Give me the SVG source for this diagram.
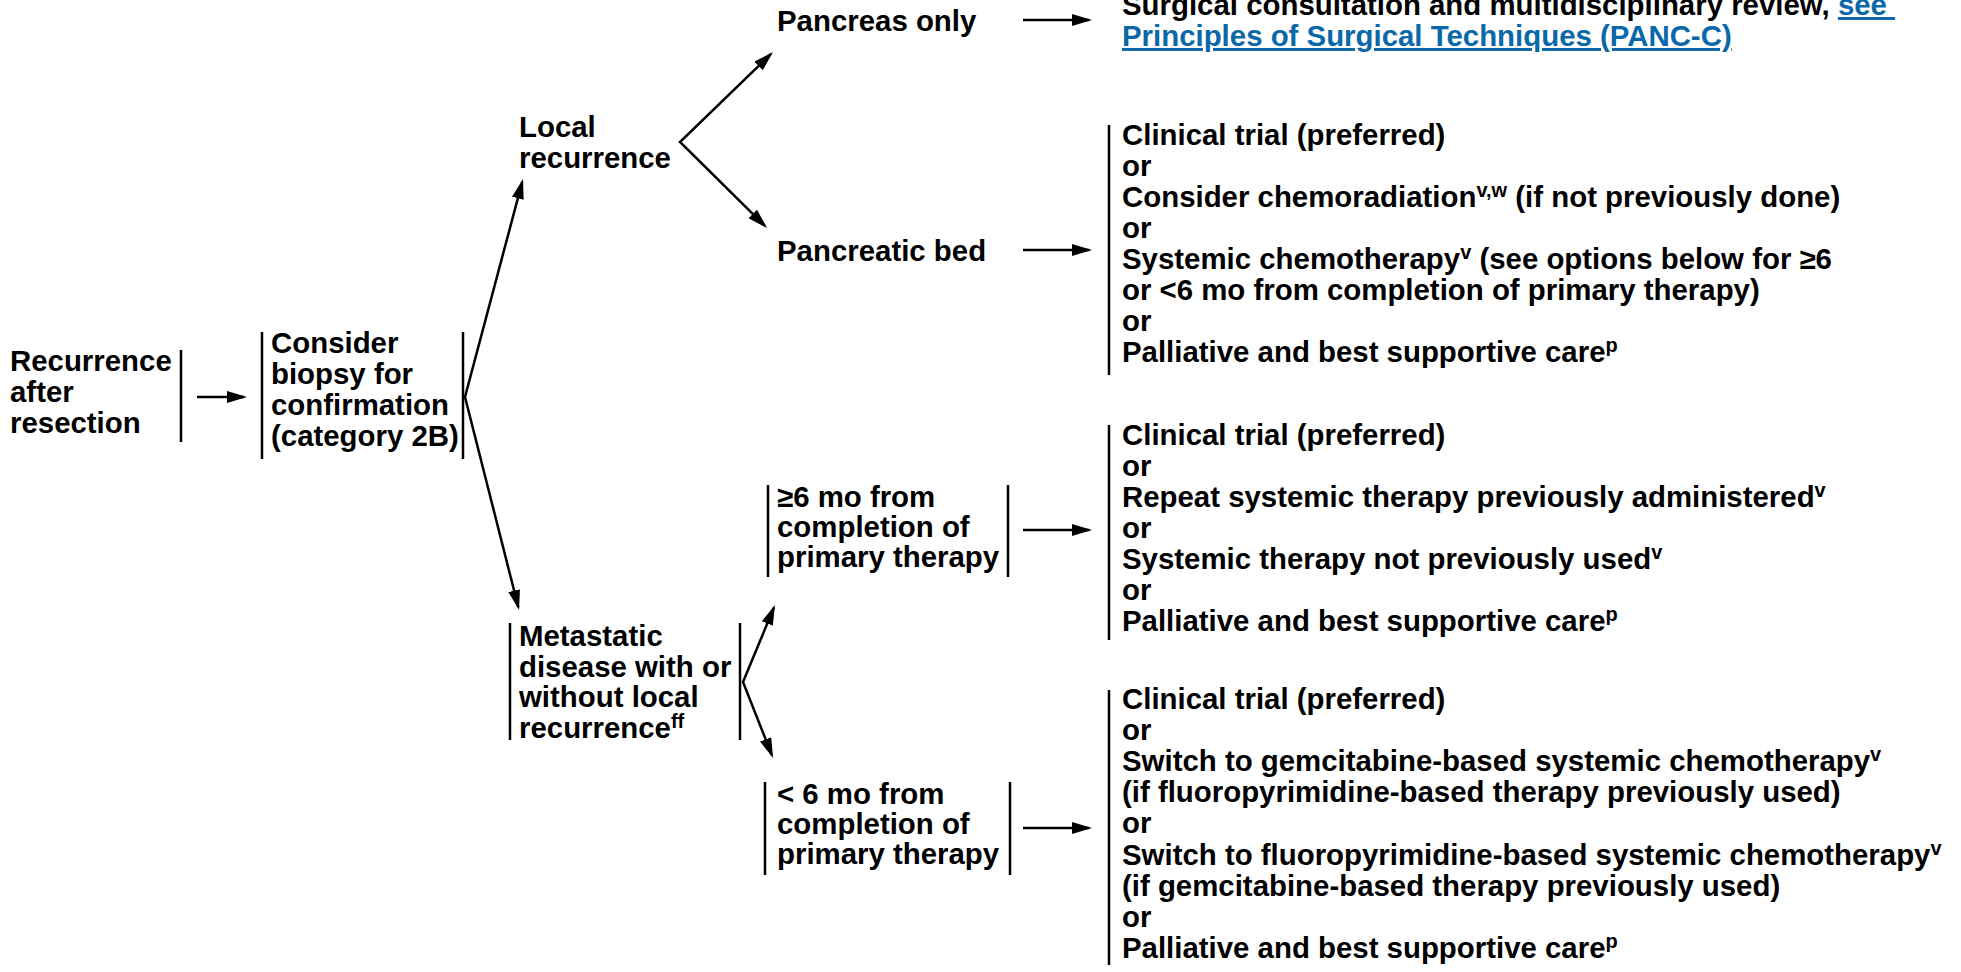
<svg xmlns="http://www.w3.org/2000/svg" width="1961" height="972" viewBox="0 0 1961 972">
<style>
text{font-family:"Liberation Sans",Arial,sans-serif;font-weight:bold;font-size:29.4px;fill:#000}
.sup{font-size:20px}
.link{fill:#0a68a8;text-decoration:underline}
.bar{stroke:#000;stroke-width:2.5;fill:none}
.conn{stroke:#000;stroke-width:2.5;fill:none;marker-end:url(#ah)}
.vee{stroke:#000;stroke-width:2.5;fill:none;marker-start:url(#ahs);marker-end:url(#ah)}
</style>
<defs>
<marker id="ah" markerUnits="userSpaceOnUse" markerWidth="20" markerHeight="12" refX="17" refY="6" orient="auto"><path d="M0,0 L20,6 L0,12 z" fill="#000"/></marker>
<marker id="ahs" markerUnits="userSpaceOnUse" markerWidth="20" markerHeight="12" refX="17" refY="6" orient="auto-start-reverse"><path d="M0,0 L20,6 L0,12 z" fill="#000"/></marker>
</defs>
<rect width="1961" height="972" fill="#fff"/>

<g id="connectors">
<line class="conn" x1="197" y1="397" x2="244" y2="397"/>
<path class="vee" d="M522.2,181.9 L465,397 L518.3,607.1"/>
<path class="vee" d="M770.8,54.1 L680,142 L764.9,225.9"/>
<path class="vee" d="M773.8,607.8 L743,682 L771.9,755.2"/>
<line class="conn" x1="1023" y1="20" x2="1089" y2="20"/>
<line class="conn" x1="1023" y1="250" x2="1089" y2="250"/>
<line class="conn" x1="1023" y1="530" x2="1089" y2="530"/>
<line class="conn" x1="1023" y1="828" x2="1089" y2="828"/>
</g>

<g id="node-recurrence">
<line class="bar" x1="181" y1="350" x2="181" y2="442"/>
<text><tspan x="10" y="371">Recurrence</tspan><tspan x="10" y="402">after</tspan><tspan x="10" y="433">resection</tspan></text>
</g>

<g id="node-biopsy">
<line class="bar" x1="262" y1="332" x2="262" y2="459"/>
<line class="bar" x1="463" y1="332" x2="463" y2="459"/>
<text><tspan x="271" y="353">Consider</tspan><tspan x="271" y="384">biopsy for</tspan><tspan x="271" y="415">confirmation</tspan><tspan x="271" y="446">(category 2B)</tspan></text>
</g>

<g id="node-local">
<text><tspan x="519" y="137">Local</tspan><tspan x="519" y="168">recurrence</tspan></text>
</g>

<g id="node-pancreas-only">
<text x="777" y="31">Pancreas only</text>
</g>

<g id="node-surgical">
<text><tspan x="1122" y="15">Surgical consultation and multidisciplinary review, </tspan><tspan class="link">see&#160;</tspan><tspan x="1122" y="46" class="link">Principles of Surgical Techniques (PANC-C)</tspan></text>
</g>

<g id="node-pancreatic-bed">
<text x="777" y="261">Pancreatic bed</text>
</g>

<g id="node-bed-options">
<line class="bar" x1="1109" y1="125" x2="1109" y2="375"/>
<text>
<tspan x="1122" y="145">Clinical trial (preferred)</tspan>
<tspan x="1122" y="176">or</tspan>
<tspan x="1122" y="207">Consider chemoradiation</tspan><tspan class="sup" dy="-10">v,w</tspan><tspan dy="10"> (if not previously done)</tspan>
<tspan x="1122" y="238">or</tspan>
<tspan x="1122" y="269">Systemic chemotherapy</tspan><tspan class="sup" dy="-10">v</tspan><tspan dy="10"> (see options below for ≥6</tspan>
<tspan x="1122" y="300">or &lt;6 mo from completion of primary therapy)</tspan>
<tspan x="1122" y="331">or</tspan>
<tspan x="1122" y="362">Palliative and best supportive care</tspan><tspan class="sup" dy="-10">p</tspan>
</text>
</g>

<g id="node-metastatic">
<line class="bar" x1="510" y1="623" x2="510" y2="740"/>
<line class="bar" x1="740" y1="623" x2="740" y2="740"/>
<text><tspan x="519" y="646">Metastatic</tspan><tspan x="519" y="677">disease with or</tspan><tspan x="519" y="707">without local</tspan><tspan x="519" y="738">recurrence</tspan><tspan class="sup" dy="-10">ff</tspan></text>
</g>

<g id="node-ge6">
<line class="bar" x1="768" y1="485" x2="768" y2="577"/>
<line class="bar" x1="1008" y1="485" x2="1008" y2="577"/>
<text><tspan x="777" y="507">≥6 mo from</tspan><tspan x="777" y="537">completion of</tspan><tspan x="777" y="567">primary therapy</tspan></text>
</g>

<g id="node-ge6-options">
<line class="bar" x1="1109" y1="425" x2="1109" y2="640"/>
<text>
<tspan x="1122" y="445">Clinical trial (preferred)</tspan>
<tspan x="1122" y="476">or</tspan>
<tspan x="1122" y="507">Repeat systemic therapy previously administered</tspan><tspan class="sup" dy="-10">v</tspan>
<tspan x="1122" y="538">or</tspan>
<tspan x="1122" y="569">Systemic therapy not previously used</tspan><tspan class="sup" dy="-10">v</tspan>
<tspan x="1122" y="600">or</tspan>
<tspan x="1122" y="631">Palliative and best supportive care</tspan><tspan class="sup" dy="-10">p</tspan>
</text>
</g>

<g id="node-lt6">
<line class="bar" x1="765" y1="782" x2="765" y2="875"/>
<line class="bar" x1="1010" y1="782" x2="1010" y2="875"/>
<text><tspan x="777" y="804">&lt; 6 mo from</tspan><tspan x="777" y="834">completion of</tspan><tspan x="777" y="864">primary therapy</tspan></text>
</g>

<g id="node-lt6-options">
<line class="bar" x1="1109" y1="690" x2="1109" y2="965"/>
<text>
<tspan x="1122" y="709">Clinical trial (preferred)</tspan>
<tspan x="1122" y="740">or</tspan>
<tspan x="1122" y="771">Switch to gemcitabine-based systemic chemotherapy</tspan><tspan class="sup" dy="-10">v</tspan>
<tspan x="1122" y="802">(if fluoropyrimidine-based therapy previously used)</tspan>
<tspan x="1122" y="833">or</tspan>
<tspan x="1122" y="865">Switch to fluoropyrimidine-based systemic chemotherapy</tspan><tspan class="sup" dy="-10">v</tspan>
<tspan x="1122" y="896">(if gemcitabine-based therapy previously used)</tspan>
<tspan x="1122" y="927">or</tspan>
<tspan x="1122" y="958">Palliative and best supportive care</tspan><tspan class="sup" dy="-10">p</tspan>
</text>
</g>
</svg>
